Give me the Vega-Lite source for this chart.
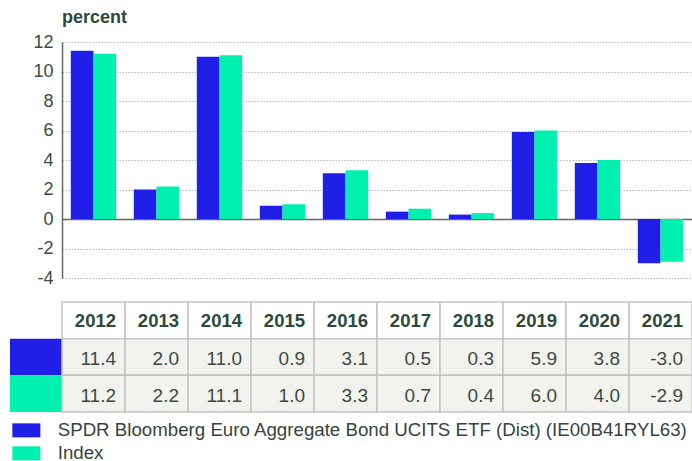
{
  "$schema": "https://vega.github.io/schema/vega-lite/v6.json",
  "padding": {"left": 10, "top": 9, "right": 0, "bottom": 0},
  "background": "white",
  "datasets": {
    "perf": [
      {"year": "2012", "series": "SPDR Bloomberg Euro Aggregate Bond UCITS ETF (Dist) (IE00B41RYL63)", "value": 11.4},
      {"year": "2012", "series": "Index", "value": 11.2},
      {"year": "2013", "series": "SPDR Bloomberg Euro Aggregate Bond UCITS ETF (Dist) (IE00B41RYL63)", "value": 2.0},
      {"year": "2013", "series": "Index", "value": 2.2},
      {"year": "2014", "series": "SPDR Bloomberg Euro Aggregate Bond UCITS ETF (Dist) (IE00B41RYL63)", "value": 11.0},
      {"year": "2014", "series": "Index", "value": 11.1},
      {"year": "2015", "series": "SPDR Bloomberg Euro Aggregate Bond UCITS ETF (Dist) (IE00B41RYL63)", "value": 0.9},
      {"year": "2015", "series": "Index", "value": 1.0},
      {"year": "2016", "series": "SPDR Bloomberg Euro Aggregate Bond UCITS ETF (Dist) (IE00B41RYL63)", "value": 3.1},
      {"year": "2016", "series": "Index", "value": 3.3},
      {"year": "2017", "series": "SPDR Bloomberg Euro Aggregate Bond UCITS ETF (Dist) (IE00B41RYL63)", "value": 0.5},
      {"year": "2017", "series": "Index", "value": 0.7},
      {"year": "2018", "series": "SPDR Bloomberg Euro Aggregate Bond UCITS ETF (Dist) (IE00B41RYL63)", "value": 0.3},
      {"year": "2018", "series": "Index", "value": 0.4},
      {"year": "2019", "series": "SPDR Bloomberg Euro Aggregate Bond UCITS ETF (Dist) (IE00B41RYL63)", "value": 5.9},
      {"year": "2019", "series": "Index", "value": 6.0},
      {"year": "2020", "series": "SPDR Bloomberg Euro Aggregate Bond UCITS ETF (Dist) (IE00B41RYL63)", "value": 3.8},
      {"year": "2020", "series": "Index", "value": 4.0},
      {"year": "2021", "series": "SPDR Bloomberg Euro Aggregate Bond UCITS ETF (Dist) (IE00B41RYL63)", "value": -3.0},
      {"year": "2021", "series": "Index", "value": -2.9}
    ]
  },
  "config": {
    "view": {"stroke": null},
    "font": "Liberation Sans",
    "locale": {"number": {"decimal": ".", "thousands": ",", "grouping": [3], "currency": ["", ""], "minus": "-"}},
    "legend": {
      "orient": "bottom",
      "direction": "vertical",
      "title": null,
      "symbolType": "M-2,-1H2V1H-2Z",
      "symbolSize": 196,
      "symbolStrokeWidth": 0,
      "symbolOpacity": 1,
      "labelFont": "Liberation Sans",
      "labelFontSize": 18.7,
      "labelColor": "#35443e",
      "labelLimit": 900,
      "labelOffset": 22,
      "rowPadding": 3,
      "offset": 1,
      "padding": 7
    }
  },
  "resolve": {"scale": {"color": "shared"}, "legend": {"color": "shared"}},
  "spacing": 14,
  "vconcat": [
    {
      "bounds": "flush",
      "spacing": 0,
      "resolve": {"scale": {"color": "shared"}},
      "hconcat": [
        {
          "width": 52,
          "height": 236,
          "data": {"values": []},
          "mark": {"type": "point"},
          "encoding": {}
        },
        {
          "width": 630,
          "height": 236,
          "data": {"name": "perf"},
          "title": {
            "text": "percent",
            "anchor": "start",
            "frame": "group",
            "font": "Liberation Sans",
            "fontSize": 18,
            "fontWeight": "bold",
            "color": "#2b4a3d",
            "offset": 6
          },
          "mark": {"type": "bar"},
          "encoding": {
            "x": {"field": "year", "type": "nominal", "axis": null, "scale": {"paddingInner": 0.28, "paddingOuter": 0.14}},
            "xOffset": {"field": "series", "type": "nominal", "scale": {"domain": ["SPDR Bloomberg Euro Aggregate Bond UCITS ETF (Dist) (IE00B41RYL63)", "Index"], "paddingInner": 0, "paddingOuter": 0}},
            "y": {
              "field": "value",
              "type": "quantitative",
              "scale": {"domain": [-4, 12], "nice": false, "zero": false},
              "axis": {
                "title": null,
                "values": [-4, -2, 0, 2, 4, 6, 8, 10, 12],
                "labelOverlap": false,
                "labelFlush": false,
                "grid": true,
                "gridColor": {"condition": {"test": "datum.value === 0", "value": "#666666"}, "value": "#b8b8b8"},
                "gridDash": {"condition": {"test": "datum.value === 0", "value": []}, "value": [1.5, 1.5]},
                "gridWidth": {"condition": {"test": "datum.value === 0", "value": 1.5}, "value": 1},
                "domainColor": "#666666",
                "domainWidth": 1.5,
                "ticks": false,
                "labelPadding": 9,
                "labelFont": "Liberation Sans",
                "labelFontSize": 18,
                "labelColor": "#3b4b45"
              }
            },
            "color": {
              "field": "series",
              "type": "nominal",
              "scale": {"domain": ["SPDR Bloomberg Euro Aggregate Bond UCITS ETF (Dist) (IE00B41RYL63)", "Index"], "range": ["#1f1fe8", "#00f0b0"]}
            }
          }
        }
      ]
    },
    {
      "bounds": "flush",
      "spacing": 0,
      "resolve": {"scale": {"color": "shared"}},
      "hconcat": [
        {
          "width": 52,
          "height": 110,
          "data": {"name": "perf"},
          "transform": [{"filter": "datum.year === '2012'"}],
          "mark": {"type": "rect"},
          "encoding": {
            "y": {"field": "series", "type": "nominal", "axis": null, "scale": {"domain": ["header", "SPDR Bloomberg Euro Aggregate Bond UCITS ETF (Dist) (IE00B41RYL63)", "Index"], "paddingInner": 0, "paddingOuter": 0}},
            "color": {"field": "series", "type": "nominal"}
          }
        },
        {
          "width": 630,
          "height": 110,
          "data": {"name": "perf"},
          "encoding": {
            "x": {"field": "year", "type": "nominal", "axis": null, "scale": {"paddingInner": 0, "paddingOuter": 0}}
          },
          "layer": [
            {
              "transform": [{"filter": "datum.series === 'Index'"}],
              "mark": {"type": "rect", "fill": "#ffffff", "stroke": "#c4c4c4", "strokeWidth": 1.5},
              "encoding": {
                "y": {"datum": "header", "type": "nominal", "axis": null, "scale": {"domain": ["header", "SPDR Bloomberg Euro Aggregate Bond UCITS ETF (Dist) (IE00B41RYL63)", "Index"], "paddingInner": 0, "paddingOuter": 0}}
              }
            },
            {
              "mark": {"type": "rect", "fill": "#f2f2ee", "stroke": "#c4c4c4", "strokeWidth": 1.5},
              "encoding": {
                "y": {"field": "series", "type": "nominal", "axis": null}
              }
            },
            {
              "transform": [{"filter": "datum.series === 'Index'"}],
              "mark": {"type": "text", "align": "right", "baseline": "alphabetic", "dx": -9, "dy": 7, "font": "Liberation Sans", "fontSize": 18.5, "fontWeight": "bold", "color": "#2b4a3d"},
              "encoding": {
                "x": {"field": "year", "type": "nominal", "bandPosition": 1},
                "y": {"datum": "header", "type": "nominal"},
                "text": {"field": "year", "type": "nominal"}
              }
            },
            {
              "mark": {"type": "text", "align": "right", "baseline": "alphabetic", "dx": -9, "dy": 8, "font": "Liberation Sans", "fontSize": 19, "color": "#3d4a44"},
              "encoding": {
                "x": {"field": "year", "type": "nominal", "bandPosition": 1},
                "y": {"field": "series", "type": "nominal"},
                "text": {"field": "value", "type": "quantitative", "format": ".1f"}
              }
            }
          ]
        }
      ]
    }
  ]
}
